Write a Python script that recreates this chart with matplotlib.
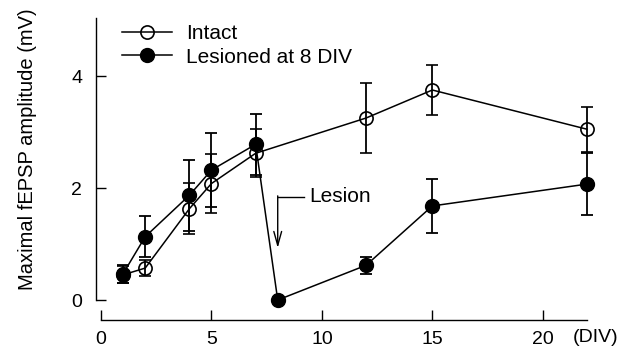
import matplotlib
matplotlib.use("Agg")
import matplotlib.pyplot as plt
from matplotlib.lines import Line2D

plt.rcParams['font.family'] = ['Liberation Sans', 'DejaVu Sans']

# days in vitro
intact_x = [1, 2, 4, 5, 7, 12, 15, 22]
intact_y = [0.45, 0.57, 1.63, 2.08, 2.62, 3.25, 3.75, 3.05]
intact_err = [0.15, 0.15, 0.46, 0.52, 0.43, 0.63, 0.45, 0.40]

lesion_x = [1, 2, 4, 5, 7, 8, 12, 15, 22]
lesion_y = [0.47, 1.13, 1.87, 2.32, 2.78, 0.0, 0.62, 1.68, 2.07]
lesion_err = [0.16, 0.37, 0.63, 0.66, 0.55, 0.0, 0.15, 0.48, 0.56]

xticks = [0, 5, 10, 15, 20]
yticks = [0, 2, 4]

fig = plt.figure(figsize=(6.35, 3.55), dpi=100)
ax = fig.add_axes([0.1417, 0.0839, 0.80, 0.8755])

fs = 15
tfs = 14
ax.errorbar(intact_x, intact_y, yerr=intact_err, color='black', lw=1.1,
            marker='o', ms=9.5, mfc='none', mec='black', mew=1.2,
            capsize=4, elinewidth=1.3, capthick=1.3, zorder=3)
ax.errorbar(lesion_x, lesion_y, yerr=lesion_err, color='black', lw=1.1,
            marker='o', ms=10, mfc='black', mec='black',
            capsize=4, elinewidth=1.3, capthick=1.3, zorder=4)

# lesion marker
ax.plot([8, 9.2], [1.84, 1.84], color='black', lw=1.0)
ax.annotate('', xy=(8, 0.93), xytext=(8, 1.86),
            arrowprops=dict(arrowstyle='->,head_length=1.0,head_width=0.28',
                            color='black', lw=1.0, shrinkA=0, shrinkB=0))
ax.text(9.45, 1.84, 'Lesion', fontsize=fs, va='center', ha='left')

ax.set_xlim(-0.5, 22.5)
ax.set_ylim(-0.45, 5.1)

for s in ['top', 'right']:
    ax.spines[s].set_visible(False)
ax.spines['left'].set_position(('data', -0.23))
ax.spines['left'].set_bounds(0, 5.04)
ax.spines['bottom'].set_position(('data', -0.36))
ax.spines['bottom'].set_bounds(0, 22)
ax.spines['left'].set_linewidth(1.0)
ax.spines['bottom'].set_linewidth(1.0)

ax.set_xticks(xticks)
ax.set_yticks(yticks)
ax.tick_params(axis='x', direction='in', length=7, width=1.0, pad=8, labelsize=tfs)
ax.tick_params(axis='y', direction='in', length=7, width=1.0, pad=10, labelsize=tfs)

ax.text(22.4, -0.52, '(DIV)', fontsize=tfs, ha='center', va='top')

ax.set_ylabel('Maximal fEPSP amplitude (mV)', fontsize=14.5)
ax.yaxis.set_label_coords(-0.104, 0.567)

handles = [
    Line2D([], [], color='black', lw=1.1, marker='o', ms=9.5, mfc='none',
           mec='black', mew=1.2),
    Line2D([], [], color='black', lw=1.1, marker='o', ms=10, mfc='black',
           mec='black'),
]
ax.legend(handles, ['Intact', 'Lesioned at 8 DIV'], loc='center left',
          bbox_to_anchor=(122 / 635, 1 - 45.5 / 355),
          bbox_transform=fig.transFigure, frameon=False, fontsize=fs,
          handlelength=2.4, handletextpad=0.67, borderpad=0,
          borderaxespad=0, labelspacing=0.2)

fig.savefig('out.png', dpi=100)
